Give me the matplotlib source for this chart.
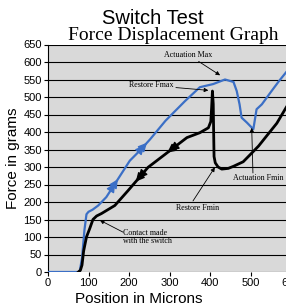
import numpy as np
import matplotlib
matplotlib.use("Agg")
import matplotlib.pyplot as plt

plt.rcParams["font.family"] = ["Liberation Sans", "DejaVu Sans"]

# Actuation stroke (blue), position in microns vs force in grams
act_x = [0, 78, 84, 90, 95, 100, 110, 124, 144, 173, 202, 226, 252, 290,
         338, 375, 408, 437, 458, 466, 473, 478, 491, 507, 515, 528, 552,
         570, 600]
act_y = [0, 0, 40, 120, 165, 172, 178, 190, 214, 266, 318, 346, 379, 432,
         488, 528, 537, 550, 543, 517, 479, 441, 427, 408, 465, 479, 517,
         545, 588]

# Restore stroke (black)
res_x = [75, 80, 84, 88, 95, 103, 111, 120, 132, 165, 198, 247, 290, 343,
         375, 396, 402, 404, 406, 408, 409, 410, 413, 420, 429, 445, 458,
         482, 499, 520, 540, 565, 588, 600]
res_y = [0, 5, 20, 60, 100, 124, 150, 160, 167, 190, 233, 299, 337, 384,
         398, 412, 430, 470, 517, 480, 400, 330, 312, 300, 294, 296, 302,
         315, 335, 360, 389, 425, 470, 492]

# direction markers along the curves
act_arrow_x = [172, 244]
res_arrow_x = [217, 295]

y_ticks = list(range(0, 651, 50))
x_ticks = list(range(0, 601, 100))

BLUE = "#3b6fc6"

fig = plt.figure(figsize=(2.86, 3.07), dpi=100)
ax = fig.add_axes([48 / 286, 35 / 307, 243 / 286, 227.5 / 307])
ax.set_facecolor("#d9d9d9")

ax.plot(act_x, act_y, color=BLUE, lw=1.6, zorder=3)
ax.plot(res_x, res_y, color="k", lw=2.0, zorder=3)


def _curve_arrow(xs, ys, x0, dx, color):
    # double arrowhead sitting on the curve, pointing along dx
    for off in (0, 0.8 * dx):
        xa = x0 + off
        y0 = np.interp(xa, xs, ys)
        y1 = np.interp(xa + dx, xs, ys)
        ax.annotate("", xy=(xa + dx, y1), xytext=(xa, y0),
                    arrowprops=dict(arrowstyle="-|>", color=color, lw=1.0,
                                    mutation_scale=13, shrinkA=0, shrinkB=0),
                    zorder=4)


for xa in act_arrow_x:
    _curve_arrow(act_x, act_y, xa - 14, 8, BLUE)
for xr in res_arrow_x:
    _curve_arrow(res_x, res_y, xr + 14, -8, "k")

ax.set_xlim(0, 600)
ax.set_ylim(0, 650)
ax.set_yticks(y_ticks)
ax.set_xticks(x_ticks)
ax.tick_params(labelsize=8, length=3, width=0.8, pad=1.5)
ax.grid(axis="y", color="k", lw=0.8)
ax.set_axisbelow(True)
for side in ["top", "right"]:
    ax.spines[side].set_visible(False)
ax.spines["bottom"].set_visible(False)

ax.set_xlabel("Position in Microns", fontsize=11)
ax.xaxis.set_label_coords(0.372, -0.088)
ax.set_ylabel("Force in grams", fontsize=11, labelpad=2)

# callouts
ann = dict(fontsize=5.8, family="Liberation Serif")
arrow = dict(arrowstyle="-|>", color="k", lw=0.6, mutation_scale=6,
             shrinkA=0, shrinkB=0)
ax.annotate("Actuation Max", xy=(425, 562), xytext=(346, 621),
            ha="center", va="center", arrowprops=arrow, **ann)
ax.annotate("Restore Fmax", xy=(396, 519), xytext=(254, 533),
            ha="center", va="center", arrowprops=arrow, **ann)
ax.annotate("Actuation Fmin", xy=(503, 412), xytext=(519, 270),
            ha="center", va="center", **ann)
ax.annotate("", xy=(503, 412), xytext=(506, 283), arrowprops=arrow)
ax.annotate("Restore Fmin", xy=(412, 299), xytext=(370, 182),
            ha="center", va="center", **ann)
ax.annotate("", xy=(412, 299), xytext=(358, 203), arrowprops=arrow)
ax.annotate("Contact made\nwith the switch", xy=(128, 148), xytext=(185, 100),
            ha="left", va="center", linespacing=1.1, **ann)
ax.annotate("", xy=(128, 148), xytext=(185, 114), arrowprops=arrow)

fig.text(153 / 286, 1 - 18 / 307, "Switch Test", ha="center", va="center",
         fontsize=14.5)
fig.text(173 / 286, 1 - 35 / 307, "Force Displacement Graph", ha="center",
         va="center", fontsize=14, family="Liberation Serif")

fig.savefig("out.png", dpi=100)
